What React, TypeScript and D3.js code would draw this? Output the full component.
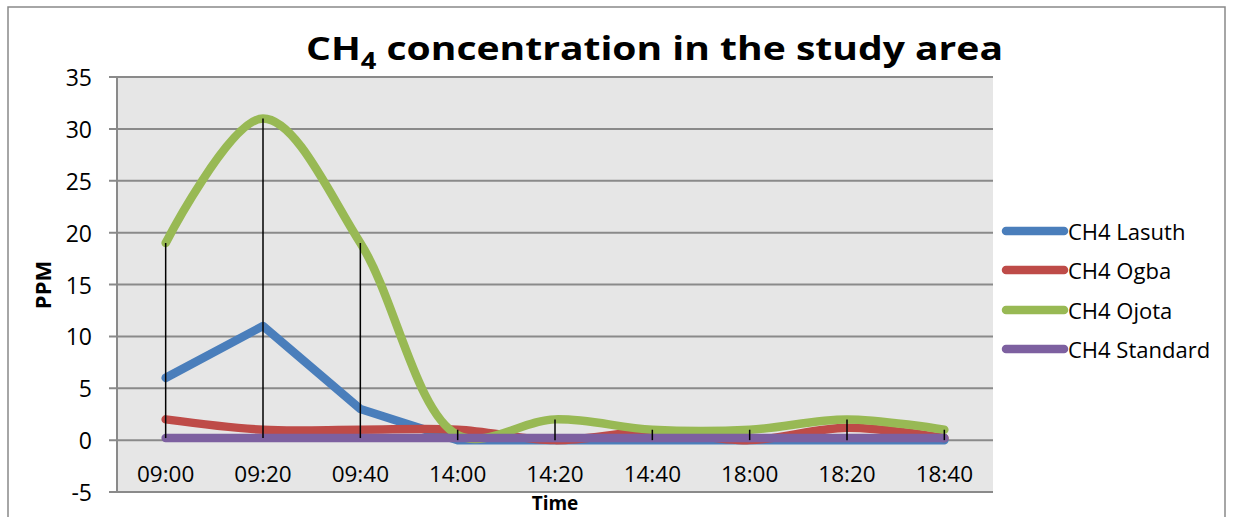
import React from "react";
import * as d3 from "d3";

const categories = ["09:00", "09:20", "09:40", "14:00", "14:20", "14:40", "18:00", "18:20", "18:40"];
const lasuth = [6, 11, 3, 0, 0, 0, 0, 0, 0];
const ogba = [2, 1, 1, 1, 0, 0.8, 0, 1.2, 0.2];
const ojota = [19, 31, 19, 0.5, 2, 1, 1, 2, 1];
const standard = [0.2, 0.2, 0.2, 0.2, 0.2, 0.2, 0.2, 0.2, 0.2];
const yTicks = [-5, 0, 5, 10, 15, 20, 25, 30, 35];

const seriesNames = ["CH4 Lasuth", "CH4 Ogba", "CH4 Ojota", "CH4 Standard"];
const seriesValues = [lasuth, ogba, ojota, standard];
const seriesColors = ["#4a7ebb", "#be4b48", "#98b954", "#7d60a0"];
const seriesSmooth = [false, true, true, false];

const FONT = "'Open Sans', 'Noto Sans', sans-serif";

export default function App() {
  const W = 1236;
  const H = 517;
  const left = 117;
  const right = 993;
  const top = 77;
  const bottom = 492;

  const x = d3.scaleBand<string>().domain(categories).range([left, right]);
  const cx = (c: string) => (x(c) as number) + x.bandwidth() / 2;
  const y = d3.scaleLinear().domain([-5, 35]).range([bottom, top]);

  const lineLinear = d3
    .line<number>()
    .x((_, i) => cx(categories[i]))
    .y((d) => y(d));
  const lineSmooth = d3
    .line<number>()
    .x((_, i) => cx(categories[i]))
    .y((d) => y(d))
    .curve(d3.curveCatmullRom.alpha(0.5));

  const highLow = categories.map((c, i) => {
    const vals = seriesValues.map((s) => s[i]);
    return { c, hi: d3.max(vals) as number, lo: d3.min(vals) as number };
  });

  const legendY = [231, 270, 310, 349];

  return (
    <svg
      width={W}
      height={H}
      style={{ position: "absolute", left: 0, top: 0, background: "#fff" }}
      fontFamily={FONT}
    >
      <rect x={8} y={7} width={1217} height={520} fill="#fff" stroke="#898989" strokeWidth={1.5} />
      <rect x={left} y={top} width={right - left} height={bottom - top} fill="#e6e6e6" />
      {yTicks.map((t) => (
        <line key={"g" + t} x1={left - 8} x2={right} y1={y(t)} y2={y(t)} stroke="#8a8a8a" strokeWidth={2} />
      ))}
      <line x1={left} x2={left} y1={top} y2={bottom} stroke="#8a8a8a" strokeWidth={2} />
      {yTicks.map((t) => (
        <text key={"yt" + t} x={92} y={y(t)} textAnchor="end" dominantBaseline="central" fontSize={23} fill="#000">
          {t}
        </text>
      ))}
      {categories.map((c) => (
        <text key={"xt" + c} x={cx(c)} y={473.5} textAnchor="middle" dominantBaseline="central" fontSize={22.5} fill="#000">
          {c}
        </text>
      ))}
      {seriesValues.map((vals, k) => (
        <path
          key={"s" + k}
          d={(seriesSmooth[k] ? lineSmooth : lineLinear)(vals) as string}
          fill="none"
          stroke={seriesColors[k]}
          strokeWidth={8.5}
          strokeLinecap="round"
          strokeLinejoin="round"
        />
      ))}
      {highLow.map((h) => (
        <line key={"hl" + h.c} x1={cx(h.c)} x2={cx(h.c)} y1={y(h.hi)} y2={y(h.lo)} stroke="#000" strokeWidth={1.5} />
      ))}
      <text x={306} y={60} fontSize={33} fontWeight="bold" fill="#000" textLength={697} lengthAdjust="spacingAndGlyphs">
        CH
        <tspan fontSize={23} dy={9}>4</tspan>
        <tspan dy={-9}> concentration in the study area</tspan>
      </text>
      <text
        transform={`translate(42,285) rotate(-90)`}
        textAnchor="middle"
        dominantBaseline="central"
        fontSize={22}
        fontWeight="bold"
        fill="#000"
      >
        PPM
      </text>
      <text x={(left + right) / 2} y={510} textAnchor="middle" fontSize={19} fontWeight="bold" fill="#000">
        Time
      </text>
      {seriesNames.map((n, k) => (
        <g key={"lg" + k}>
          <line x1={1006} x2={1064} y1={legendY[k]} y2={legendY[k]} stroke={seriesColors[k]} strokeWidth={8.5} strokeLinecap="round" />
          <text x={1068} y={legendY[k]} dominantBaseline="central" fontSize={22} fill="#000">
            {n}
          </text>
        </g>
      ))}
    </svg>
  );
}
